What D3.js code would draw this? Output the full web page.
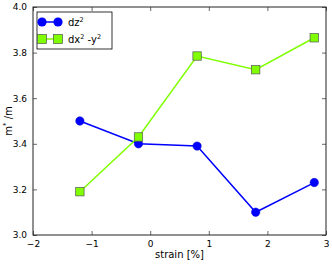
<!DOCTYPE html>
<html>
<head>
<meta charset="utf-8">
<script src="https://cdn.jsdelivr.net/npm/d3@7"></script>
<style>
  body { margin: 0; background: #fff; }
  text { font-family: "DejaVu Sans", sans-serif; }
</style>
</head>
<body>
<div id="chart"></div>
<script>
// data
var strain = [-1.2, -0.2, 0.8, 1.8, 2.8]
var dz2 = [3.50, 3.40, 3.39, 3.10, 3.23]
var dx2y2 = [3.19, 3.43, 3.785, 3.725, 3.865]
var xTicks = [-2, -1, 0, 1, 2, 3]
var yTicks = [3.0, 3.2, 3.4, 3.6, 3.8, 4.0]

var W = 332, H = 264
var margin = {top: 7, right: 6, bottom: 29, left: 33}
var width = W - margin.left - margin.right,
    height = H - margin.top - margin.bottom

var svg = d3.select("#chart").append("svg")
  .attr("width", W).attr("height", H)
var g = svg.append("g")
  .attr("transform", "translate(" + margin.left + "," + margin.top + ")")

var x = d3.scaleLinear().domain([-2, 3]).range([0, width])
var y = d3.scaleLinear().domain([3.0, 4.0]).range([height, 0])

function fmtX(d) { return d < 0 ? "\u2212" + Math.abs(d) : d }

// axes - ticks inside on all four sides
var ax = [
  {gen: d3.axisBottom(x).tickValues(xTicks).tickFormat(fmtX), t: "translate(0," + height + ")"},
  {gen: d3.axisTop(x).tickValues(xTicks).tickFormat(""), t: "translate(0,0)"},
  {gen: d3.axisLeft(y).tickValues(yTicks).tickFormat(d3.format(".1f")), t: "translate(0,0)"},
  {gen: d3.axisRight(y).tickValues(yTicks).tickFormat(""), t: "translate(" + width + ",0)"}
]
ax.forEach(function(a) {
  var s = g.append("g").attr("transform", a.t)
    .call(a.gen.tickSizeInner(-4).tickSizeOuter(0).tickPadding(6))
  s.select(".domain").remove()
  s.selectAll("line").attr("stroke", "#000").attr("stroke-width", 0.6)
  s.selectAll("text").attr("font-size", 9).attr("fill", "#000")
})

g.append("rect").attr("width", width).attr("height", height)
  .attr("fill", "none").attr("stroke", "#222").attr("stroke-width", 1)

var line = d3.line().x(function(d) { return x(d[0]) }).y(function(d) { return y(d[1]) })

var blue = "#0000ff", green = "#7fff00"

var s1 = strain.map(function(v, i) { return [v, dz2[i]] })
var s2 = strain.map(function(v, i) { return [v, dx2y2[i]] })

g.append("path").datum(s1).attr("d", line)
  .attr("fill", "none").attr("stroke", blue).attr("stroke-width", 1.5)
g.selectAll(".c").data(s1).enter().append("circle")
  .attr("cx", function(d) { return x(d[0]) })
  .attr("cy", function(d) { return y(d[1]) })
  .attr("r", 4.2).attr("fill", blue).attr("stroke", "#0000cc").attr("stroke-width", 0.5)

g.append("path").datum(s2).attr("d", line)
  .attr("fill", "none").attr("stroke", green).attr("stroke-width", 1.5)
g.selectAll(".s").data(s2).enter().append("rect")
  .attr("x", function(d) { return x(d[0]) - 4.2 })
  .attr("y", function(d) { return y(d[1]) - 4.2 })
  .attr("width", 8.4).attr("height", 8.4)
  .attr("fill", green).attr("stroke", "#555").attr("stroke-width", 0.7)

// legend
var lg = svg.append("g").attr("transform", "translate(37,12)")
lg.append("rect").attr("width", 75).attr("height", 37)
  .attr("fill", "#fff").attr("stroke", "#000").attr("stroke-width", 0.8)
var row1 = lg.append("g").attr("transform", "translate(0,10)")
row1.append("line").attr("x1", 5).attr("x2", 21).attr("stroke", blue).attr("stroke-width", 1.5)
row1.selectAll("circle").data([5, 21]).enter().append("circle")
  .attr("cx", function(d) { return d }).attr("r", 4.6).attr("fill", blue)
var t1 = row1.append("text").attr("x", 31).attr("y", 4).attr("font-size", 10)
t1.append("tspan").text("dz")
t1.append("tspan").attr("font-size", 6.5).attr("dy", -4).text("2")

var row2 = lg.append("g").attr("transform", "translate(0,27)")
row2.append("line").attr("x1", 5).attr("x2", 21).attr("stroke", green).attr("stroke-width", 1.5)
row2.selectAll("rect").data([5, 21]).enter().append("rect")
  .attr("x", function(d) { return d - 4.6 }).attr("y", -4.6).attr("width", 9.2).attr("height", 9.2)
  .attr("fill", green).attr("stroke", "#555").attr("stroke-width", 0.7)
var t2 = row2.append("text").attr("x", 31).attr("y", 4).attr("font-size", 10)
t2.append("tspan").text("dx")
t2.append("tspan").attr("font-size", 6.5).attr("dy", -4).text("2")
t2.append("tspan").attr("dy", 4).text(" -y")
t2.append("tspan").attr("font-size", 6.5).attr("dy", -4).text("2")

// axis titles
svg.append("text").attr("x", margin.left + width / 2).attr("y", 258)
  .attr("text-anchor", "middle").attr("font-size", 10).text("strain [%]")
var yl = svg.append("text").attr("transform", "translate(12," + (margin.top + height / 2) + ") rotate(-90)")
  .attr("text-anchor", "middle").attr("font-size", 10)
yl.append("tspan").text("m")
yl.append("tspan").attr("font-size", 7).attr("dy", -4).text("*")
yl.append("tspan").attr("dy", 4).text(" /m")
</script>
</body>
</html>
